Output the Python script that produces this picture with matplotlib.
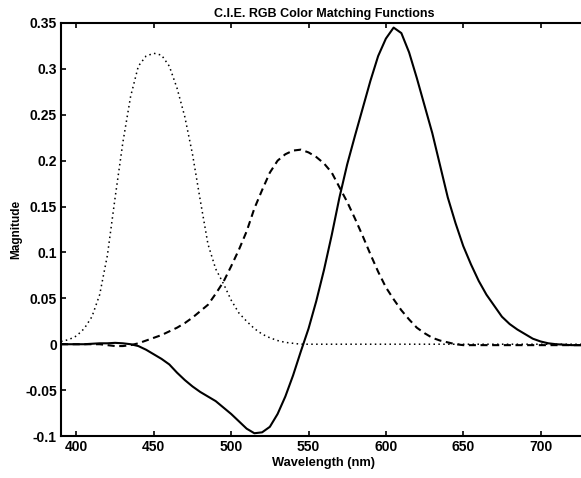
import matplotlib
matplotlib.use("Agg")
import matplotlib.pyplot as plt

# ---- data ----
wavelength = [390, 395, 400, 405, 410, 415, 420, 425, 430, 435, 440, 445, 450, 455, 460, 465,
              470, 475, 480, 485, 490, 495, 500, 505, 510, 515, 520, 525, 530, 535, 540, 545,
              550, 555, 560, 565, 570, 575, 580, 585, 590, 595, 600, 605, 610, 615, 620, 625,
              630, 635, 640, 645, 650, 655, 660, 665, 670, 675, 680, 685, 690, 695, 700, 705,
              710, 715, 720, 725, 730]

r_bar = [0.0, 0.0, 0.0, 0.0, 0.0005, 0.001, 0.001, 0.0015, 0.001, 0.0, -0.002, -0.006,
         -0.011, -0.016, -0.022, -0.031, -0.039, -0.046, -0.052, -0.057, -0.062, -0.069,
         -0.076, -0.084, -0.092, -0.097, -0.096, -0.090, -0.076, -0.057, -0.034, -0.008,
         0.017, 0.047, 0.081, 0.119, 0.160, 0.196, 0.227, 0.257, 0.287, 0.314, 0.333, 0.345,
         0.339, 0.318, 0.290, 0.260, 0.230, 0.195, 0.160, 0.132, 0.107, 0.087, 0.069, 0.054,
         0.042, 0.030, 0.022, 0.016, 0.011, 0.006, 0.003, 0.001, 0.0, -0.0005, -0.001,
         -0.001, -0.001]

g_bar = [0.0, 0.0, 0.0, 0.0, 0.0, 0.0, -0.001, -0.002, -0.002, -0.001, 0.001, 0.004,
         0.007, 0.010, 0.014, 0.018, 0.023, 0.029, 0.036, 0.043, 0.055, 0.068, 0.085, 0.103,
         0.123, 0.148, 0.168, 0.187, 0.200, 0.207, 0.211, 0.212, 0.209, 0.204, 0.197, 0.187,
         0.171, 0.155, 0.137, 0.118, 0.098, 0.079, 0.062, 0.049, 0.037, 0.027, 0.018, 0.012,
         0.007, 0.004, 0.002, 0.0, -0.001, -0.001, -0.001, -0.001, -0.001, -0.001, -0.001,
         -0.001, -0.001, -0.001, -0.001, -0.001, -0.001, -0.001, -0.001, -0.001, -0.001]

b_bar = [0.003, 0.005, 0.009, 0.017, 0.030, 0.054, 0.097, 0.160, 0.220, 0.270, 0.303, 0.314,
         0.317, 0.315, 0.303, 0.279, 0.248, 0.207, 0.157, 0.109, 0.082, 0.066, 0.048, 0.034,
         0.025, 0.017, 0.011, 0.007, 0.004, 0.002, 0.001, 0.0, 0.0, 0.0, 0.0, 0.0, 0.0, 0.0,
         0.0, 0.0, 0.0, 0.0, 0.0, 0.0, 0.0, 0.0, 0.0, 0.0, 0.0, 0.0, 0.0, 0.0, 0.0, 0.0,
         0.0, 0.0, 0.0, 0.0, 0.0, 0.0, 0.0, 0.0, 0.0, 0.0, 0.0, 0.0, 0.0, 0.0, 0.0]

x_ticks = [400, 450, 500, 550, 600, 650, 700]
y_ticks = [-0.1, -0.05, 0, 0.05, 0.1, 0.15, 0.2, 0.25, 0.3, 0.35]
y_tick_labels = ["-0.1", "-0.05", "0", "0.05", "0.1", "0.15", "0.2", "0.25", "0.3", "0.35"]

title = "C.I.E. RGB Color Matching Functions"
x_label = "Wavelength (nm)"
y_label = "Magnitude"

# ---- figure ----
plt.rcParams['font.family'] = ['Liberation Sans', 'DejaVu Sans']
fig = plt.figure(figsize=(5.81, 4.78), dpi=100)
W, H = 581, 478
left_px, right_px, top_px, bottom_px = 61, 587, 23, 436
ax = fig.add_axes([left_px / W, 1 - bottom_px / H,
                   (right_px - left_px) / W, (bottom_px - top_px) / H])

ax.plot(wavelength, r_bar, color='black', lw=1.5, solid_joinstyle='round')
ax.plot(wavelength, g_bar, color='black', lw=1.5, linestyle=(0, (3.4, 2.2)))
ax.plot(wavelength, b_bar, color='black', lw=1.1, linestyle=(0, (1, 2.2)))

ax.set_xlim(390, 730)
ax.set_ylim(-0.1, 0.35)
ax.set_xticks(x_ticks)
ax.set_xticklabels([str(v) for v in x_ticks])
ax.set_yticks(y_ticks)
ax.set_yticklabels(y_tick_labels)

for s in ax.spines.values():
    s.set_linewidth(1.5)

ax.tick_params(direction='in', length=3.5, width=1.2, top=True, right=True,
               labelsize=10, pad=3)
for lab in ax.get_xticklabels() + ax.get_yticklabels():
    lab.set_fontweight('bold')

ax.set_title(title, fontsize=9, fontweight='bold', pad=4)
ax.set_xlabel(x_label, fontsize=9.3, fontweight='bold', labelpad=2)
ax.set_ylabel(y_label, fontsize=8.5, fontweight='bold', labelpad=2)

fig.savefig("out.png", dpi=100)
